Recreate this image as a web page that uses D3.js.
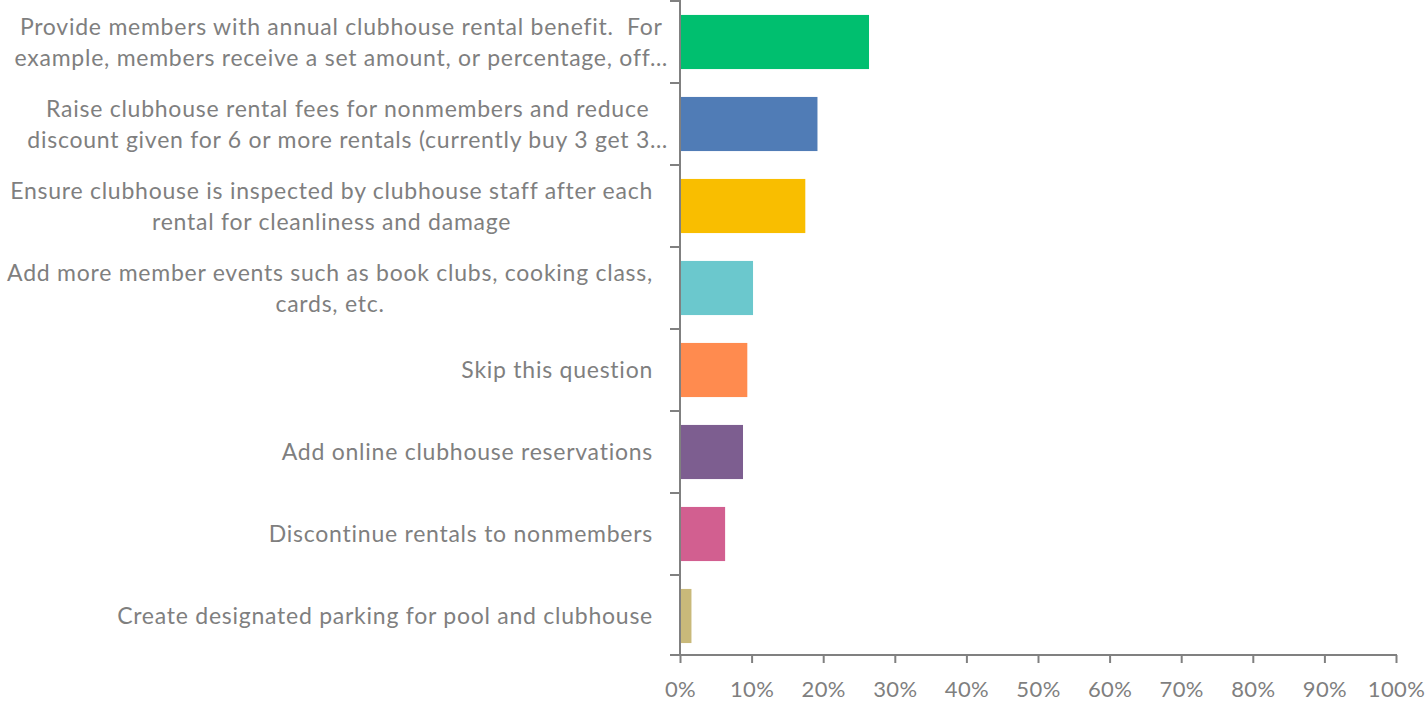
<!DOCTYPE html>
<html>
<head>
<meta charset="utf-8">
<script src="https://cdn.jsdelivr.net/npm/d3@7/dist/d3.min.js"></script>
<style>
  html, body { margin: 0; padding: 0; background: #ffffff; }
  svg { display: block; }
  text { font-family: Lato, "Open Sans", sans-serif; fill: #7f7f7f; }
</style>
</head>
<body>
<svg id="chart" width="1425" height="702"></svg>
<script>
// ---- Data ----
const categories = [
  "Provide members with annual clubhouse rental benefit.  For example, members receive a set amount, or percentage, off…",
  "Raise clubhouse rental fees for nonmembers and reduce discount given for 6 or more rentals (currently buy 3 get 3…",
  "Ensure clubhouse is inspected by clubhouse staff after each rental for cleanliness and damage",
  "Add more member events such as book clubs, cooking class, cards, etc.",
  "Skip this question",
  "Add online clubhouse reservations",
  "Discontinue rentals to nonmembers",
  "Create designated parking for pool and clubhouse"
];
const labelLines = [
  ["Provide members with annual clubhouse rental benefit.\u00a0 For", "example, members receive a set amount, or percentage, off…"],
  ["Raise clubhouse rental fees for nonmembers and reduce", "discount given for 6 or more rentals (currently buy 3 get 3…"],
  ["Ensure clubhouse is inspected by clubhouse staff after each", "rental for cleanliness and damage"],
  ["Add more member events such as book clubs, cooking class,", "cards, etc."],
  ["Skip this question"],
  ["Add online clubhouse reservations"],
  ["Discontinue rentals to nonmembers"],
  ["Create designated parking for pool and clubhouse"]
];
const values = [0.264, 0.192, 0.175, 0.102, 0.094, 0.088, 0.063, 0.016];
const colors = ["#00bf6f", "#507cb6", "#f9be00", "#6bc8cd", "#ff8b4f", "#7d5e90", "#d25f90", "#c9b97a"];
const xTicks = [0, 0.1, 0.2, 0.3, 0.4, 0.5, 0.6, 0.7, 0.8, 0.9, 1.0];

// ---- Layout ----
const svg = d3.select("#chart");
const x0 = 680, x1 = 1396, yTop = 1, yBottom = 657, axisY = 655;
const axisColor = "#808080";

const x = d3.scaleLinear().domain([0, 1]).range([x0, x1]);
const y = d3.scaleBand().domain(categories).range([yTop, yBottom])
  .paddingInner(0.34).paddingOuter(0.17);

// Bars
svg.append("g").selectAll("rect")
  .data(categories)
  .join("rect")
  .attr("x", x(0) + 1)
  .attr("y", d => y(d))
  .attr("width", (d, i) => x(values[i]) - x(0) - 1)
  .attr("height", y.bandwidth())
  .attr("fill", (d, i) => colors[i]);

// X axis
const xAxis = d3.axisBottom(x)
  .tickValues(xTicks)
  .tickFormat(d3.format(".0%"))
  .tickSizeInner(8)
  .tickSizeOuter(0)
  .tickPadding(10);
const gx = svg.append("g").attr("transform", `translate(0,${axisY})`).call(xAxis);
gx.select(".domain").remove();
gx.selectAll(".tick line").attr("stroke", axisColor).attr("stroke-width", 2);
gx.selectAll(".tick text")
  .attr("y", 42)
  .attr("dy", null)
  .style("font-size", "22px")
  .style("letter-spacing", "0.4px")
  .style("font-family", "Lato, sans-serif")
  .attr("fill", axisColor);
gx.append("line")
  .attr("x1", x0 - 10).attr("x2", x1 + 1)
  .attr("y1", 0).attr("y2", 0)
  .attr("stroke", axisColor).attr("stroke-width", 2);

// Y axis line and boundary ticks
const step = y.step();
const boundaries = d3.range(categories.length).map(i => yTop + i * step);
svg.append("line")
  .attr("x1", x0).attr("x2", x0)
  .attr("y1", yTop - 1).attr("y2", axisY)
  .attr("stroke", axisColor).attr("stroke-width", 2);
svg.append("g").selectAll("line")
  .data(boundaries)
  .join("line")
  .attr("x1", x0 - 10).attr("x2", x0)
  .attr("y1", d => d).attr("y2", d => d)
  .attr("stroke", axisColor).attr("stroke-width", 2);

// Category labels
const fontSize = 23;
const lineH = 31;
const labelRight = 653;
const lg = svg.append("g")
  .style("font-size", fontSize + "px")
  .style("letter-spacing", "0.75px");
categories.forEach((c, i) => {
  const lines = labelLines[i];
  const cy = y(c) + y.bandwidth() / 2;
  if (lines.length === 1) {
    lg.append("text")
      .attr("x", labelRight)
      .attr("y", cy)
      .attr("dy", "0.35em")
      .attr("text-anchor", "end")
      .text(lines[0]);
  } else {
    const t = lg.append("text")
      .attr("text-anchor", "middle");
    const spans = lines.map((ln, k) => t.append("tspan")
      .attr("y", cy + (k - (lines.length - 1) / 2) * lineH)
      .attr("dy", "0.35em")
      .text(ln));
    const maxW = d3.max(spans, s => s.node().getComputedTextLength());
    const right = lines.some(ln => ln.endsWith("…")) ? labelRight + 15 : labelRight;
    const cx = right - maxW / 2;
    spans.forEach(s => s.attr("x", cx));
  }
});
</script>
</body>
</html>
